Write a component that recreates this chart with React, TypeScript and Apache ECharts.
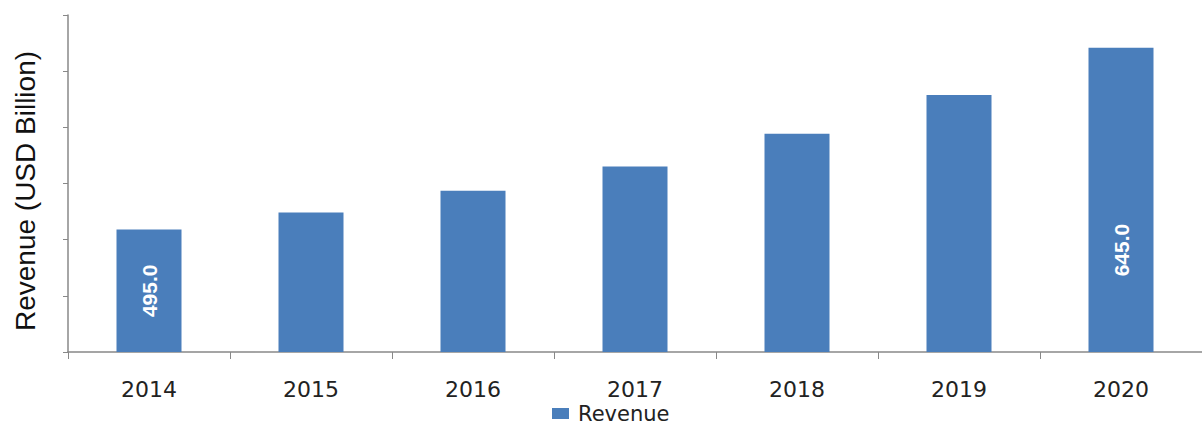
import React, { useEffect, useRef } from "react";
import * as echarts from "echarts";

const years = ["2014", "2015", "2016", "2017", "2018", "2019", "2020"];
const revenue = [495, 509, 527, 547, 574, 606, 645];
const labelledYears = ["2014", "2020"];
const labelHeights = ["50%", "66.5%"];
const yMin = 394;
const yMax = 672;
const yTicks = [394, 440.33, 486.67, 533, 579.33, 625.67, 672];
const seriesName = "Revenue";
const axisName = "Revenue (USD Billion)";

export default function App() {
  const ref = useRef<HTMLDivElement>(null);
  useEffect(() => {
    if (!ref.current) return;
    const chart = echarts.init(ref.current, null, { renderer: "svg" });
    const data = revenue.map((v, i) => {
      const li = labelledYears.indexOf(years[i]);
      if (li < 0) return { value: v };
      return {
        value: v,
        label: {
          show: true,
          position: ["50%", labelHeights[li]],
          rotate: 90,
          align: "center",
          verticalAlign: "middle",
          color: "#ffffff",
          fontFamily: "Liberation Sans",
          fontWeight: "bold",
          fontSize: 21,
          formatter: (p: any) => Number(p.value).toFixed(1),
        },
      };
    });
    chart.setOption({
      animation: false,
      backgroundColor: "#ffffff",
      grid: { left: 68, right: -6.5, top: 15, bottom: 75, containLabel: false },
      legend: {
        data: [seriesName],
        left: 547,
        top: 398,
        icon: "rect",
        itemWidth: 17,
        itemHeight: 11,
        textStyle: {
          fontFamily: "DejaVu Sans",
          fontSize: 21,
          color: "#222222",
          padding: [0, 0, 0, 4],
        },
      },
      xAxis: {
        type: "category",
        data: years,
        boundaryGap: true,
        axisLine: { lineStyle: { color: "#888888", width: 1.5 } },
        axisTick: { show: true, length: 7, lineStyle: { color: "#888888" } },
        axisLabel: {
          margin: 26,
          fontFamily: "DejaVu Sans",
          fontSize: 22,
          color: "#222222",
        },
        splitLine: { show: false },
      },
      yAxis: {
        type: "value",
        min: yMin,
        max: yMax,
        name: axisName,
        nameLocation: "middle",
        nameGap: 29,
        nameTextStyle: {
          fontFamily: "Liberation Sans",
          fontSize: 28,
          color: "#111111",
          padding: [0, 15, 0, 0],
        },
        axisLine: { show: true, lineStyle: { color: "#888888", width: 1.5 } },
        axisTick: {
          show: true,
          length: 5,
          customValues: yTicks,
          lineStyle: { color: "#888888" },
        },
        axisLabel: { show: false },
        splitLine: { show: false },
      },
      series: [
        {
          name: seriesName,
          type: "bar",
          data,
          barWidth: 65,
          itemStyle: { color: "#4a7ebb" },
        },
      ],
    });
    return () => chart.dispose();
  }, []);
  return (
    <div
      ref={ref}
      style={{ position: "absolute", left: 0, top: 0, width: 1202, height: 427 }}
    />
  );
}
